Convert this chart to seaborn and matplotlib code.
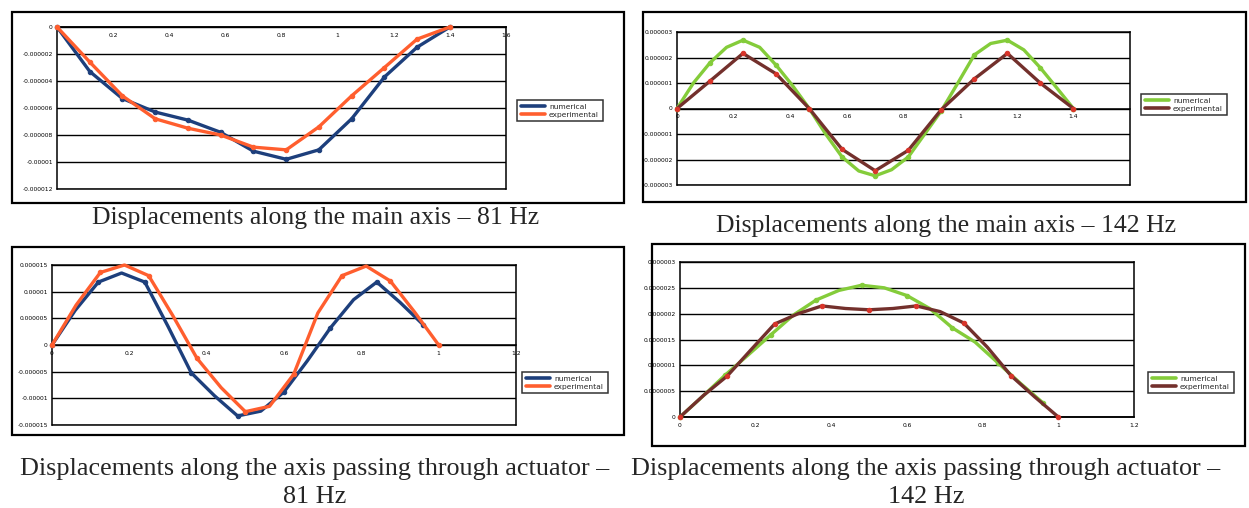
import numpy as np
import matplotlib
matplotlib.use('Agg')
import matplotlib.pyplot as plt
import seaborn as sns
from matplotlib.patches import Rectangle
from matplotlib.lines import Line2D

sns.set_style('white')
plt.rcParams['font.family'] = ['DejaVu Sans']

W, H = 1249, 508

# ---- data (y in micro units, labels show real values) ----
# panel 1: main axis, 81 Hz
x_p1 = [0, 0.117, 0.233, 0.35, 0.467, 0.583, 0.7, 0.817, 0.933, 1.05, 1.167, 1.283, 1.4]
num_p1 = [0, -3.3, -5.3, -6.3, -6.9, -7.8, -9.2, -9.8, -9.1, -6.8, -3.7, -1.5, 0]
exp_p1 = [0, -2.6, -5.1, -6.8, -7.5, -8.0, -8.9, -9.1, -7.4, -5.1, -3.0, -0.9, 0]

# panel 2: main axis, 142 Hz
x_p2_num = [0, 0.058, 0.117, 0.175, 0.233, 0.292, 0.35, 0.408, 0.467, 0.525, 0.583, 0.642, 0.7,
            0.758, 0.817, 0.875, 0.933, 0.992, 1.05, 1.108, 1.167, 1.225, 1.283, 1.342, 1.4]
num_p2 = [0, 1.0, 1.8, 2.4, 2.68, 2.4, 1.7, 0.9, 0.0, -1.0, -1.9, -2.45, -2.64,
          -2.4, -1.9, -1.0, -0.1, 1.0, 2.1, 2.55, 2.68, 2.3, 1.6, 0.8, 0]
x_p2_exp = [0, 0.117, 0.233, 0.35, 0.467, 0.583, 0.7, 0.817, 0.933, 1.05, 1.167, 1.283, 1.4]
exp_p2 = [0, 1.08, 2.16, 1.36, 0.0, -1.6, -2.44, -1.64, -0.05, 1.16, 2.16, 1.0, 0]

# panel 3: axis through actuator, 81 Hz
x_p3_num = [0, 0.06, 0.12, 0.18, 0.24, 0.3, 0.36, 0.42, 0.48, 0.54, 0.6, 0.66, 0.72, 0.78, 0.84, 0.9, 0.96]
num_p3 = [0, 6.5, 11.8, 13.5, 11.8, 3.5, -5.2, -9.5, -13.3, -12.4, -8.8, -3.0, 3.2, 8.5, 11.8, 8.0, 3.8]
x_p3_exp = [0, 0.0625, 0.125, 0.1875, 0.25, 0.3125, 0.375, 0.4375, 0.5, 0.5625, 0.625, 0.6875,
            0.75, 0.8125, 0.875, 0.9375, 1.0]
exp_p3 = [0, 7.5, 13.6, 15.0, 13.0, 5.5, -2.5, -8.0, -12.5, -11.5, -5.5, 6.0, 13.0, 14.8, 12.0, 6.2, 0]

# panel 4: axis through actuator, 142 Hz
x_p4_num = [0, 0.06, 0.12, 0.18, 0.24, 0.3, 0.36, 0.42, 0.48, 0.54, 0.6, 0.66, 0.72, 0.78, 0.84, 0.9, 0.96]
num_p4 = [0, 0.4, 0.815, 1.2, 1.59, 1.975, 2.265, 2.45, 2.55, 2.5, 2.35, 2.1, 1.725, 1.45, 1.05, 0.65, 0.27]
x_p4_exp = [0, 0.0625, 0.125, 0.1875, 0.25, 0.3125, 0.375, 0.4375, 0.5, 0.5625, 0.625, 0.6875,
            0.75, 0.8125, 0.875, 0.9375, 1.0]
exp_p4 = [0, 0.42, 0.795, 1.3, 1.8, 2.0, 2.15, 2.1, 2.075, 2.1, 2.15, 2.04, 1.82, 1.35, 0.8, 0.39, 0]

yt_p1 = [0, -2, -4, -6, -8, -10, -12]
yl_p1 = ['0', '-0.000002', '-0.000004', '-0.000006', '-0.000008', '-0.00001', '-0.000012']
yt_p2 = [3, 2, 1, 0, -1, -2, -3]
yl_p2 = ['0.000003', '0.000002', '0.000001', '0', '-0.000001', '-0.000002', '-0.000003']
yt_p3 = [15, 10, 5, 0, -5, -10, -15]
yl_p3 = ['0.000015', '0.00001', '0.000005', '0', '-0.000005', '-0.00001', '-0.000015']
yt_p4 = [3, 2.5, 2, 1.5, 1, 0.5, 0]
yl_p4 = ['0.000003', '0.0000025', '0.000002', '0.0000015', '0.000001', '0.0000005', '0']

titles = [
    'Displacements along the main axis \u2013 81 Hz',
    'Displacements along the main axis \u2013 142 Hz',
    'Displacements along the axis passing through actuator \u2013\n81 Hz',
    'Displacements along the axis passing through actuator \u2013\n142 Hz',
]
series_names = ['numerical', 'experimental']

BLUE, ORANGE = '#1d3f7c', '#ff5e2e'
GREEN, BROWN, RED = '#84cc3a', '#73302c', '#d8342a'


def px_axes(l, t, r, b):
    return [l / W, 1 - b / H, (r - l) / W, (b - t) / H]


fig = plt.figure(figsize=(W / 100, H / 100), dpi=100)
fig.patch.set_facecolor('white')

# outer chart boxes
for (l, t, r, b) in [(12, 12, 624, 203), (643, 12, 1246, 202), (12, 247, 624, 435), (652, 244, 1245, 446)]:
    fig.add_artist(Rectangle((l / W, 1 - b / H), (r - l) / W, (b - t) / H, transform=fig.transFigure,
                             fill=False, ec='black', lw=1.6))


def setup(ax, xlim, xticks, xlabels, yticks, ylabels, zero_at):
    # spine position first: moving it resets tick styling
    ax.spines['bottom'].set_position(('data', zero_at))
    for s in ax.spines.values():
        s.set_color('black')
        s.set_linewidth(1.1)
        s.set_visible(True)
    ax.set_xlim(*xlim)
    ax.set_ylim(min(yticks), max(yticks))
    ax.set_yticks(yticks)
    ax.set_yticklabels(ylabels, fontsize=4.3)
    ax.set_xticks(xticks)
    ax.set_xticklabels(xlabels, fontsize=4.3)
    ax.axhline(min(yticks), color='black', lw=1.1, clip_on=False, zorder=1)
    ax.yaxis.grid(True, color='black', lw=1.0)
    ax.xaxis.grid(False)
    ax.tick_params(axis='x', direction='inout', length=4, width=0.8, pad=2, colors='black', labelsize=4.3)
    ax.tick_params(axis='y', direction='inout', length=4, width=0.8, pad=1, colors='black', labelsize=4.3)
    ax.set_xlabel('')
    ax.set_ylabel('')


def draw(ax, x, y, color, mcolor, every=1):
    sns.lineplot(x=x, y=y, ax=ax, color=color, lw=2.4, marker='o', ms=3.2, mfc=mcolor, mec=mcolor,
                 markevery=every, sort=False, clip_on=False, zorder=3)


def add_legend(ax, colors, box):
    l, t, r, b = box
    handles = [Line2D([0], [0], color=c, lw=2.6) for c in colors]
    leg = ax.legend(handles, series_names, loc='upper left', bbox_to_anchor=(l / W, 1 - t / H),
                    bbox_transform=fig.transFigure, fontsize=5.4, frameon=True, fancybox=False,
                    handlelength=3.2, borderpad=0.5, labelspacing=0.2, handletextpad=0.6)
    leg.get_frame().set_edgecolor('black')
    leg.get_frame().set_linewidth(1.1)


# panel 1
ax1 = fig.add_axes(px_axes(57, 27, 506, 189))
draw(ax1, x_p1, num_p1, BLUE, BLUE)
draw(ax1, x_p1, exp_p1, ORANGE, ORANGE)
setup(ax1, (0, 1.6), [0.2, 0.4, 0.6, 0.8, 1, 1.2, 1.4, 1.6],
      ['0.2', '0.4', '0.6', '0.8', '1', '1.2', '1.4', '1.6'], yt_p1, yl_p1, 0)
add_legend(ax1, [BLUE, ORANGE], (513, 96, 606, 131))

# panel 2
ax2 = fig.add_axes(px_axes(677, 32, 1130, 185))
draw(ax2, x_p2_num, num_p2, GREEN, GREEN, every=2)
draw(ax2, x_p2_exp, exp_p2, BROWN, RED)
setup(ax2, (0, 1.6), [0, 0.2, 0.4, 0.6, 0.8, 1, 1.2, 1.4],
      ['0', '0.2', '0.4', '0.6', '0.8', '1', '1.2', '1.4'], yt_p2, yl_p2, 0)
add_legend(ax2, [GREEN, BROWN], (1137, 90, 1232, 125))

# panel 3
ax3 = fig.add_axes(px_axes(52, 265, 516, 425))
draw(ax3, x_p3_num, num_p3, BLUE, BLUE, every=2)
draw(ax3, x_p3_exp, exp_p3, ORANGE, ORANGE, every=2)
setup(ax3, (0, 1.2), [0, 0.2, 0.4, 0.6, 0.8, 1, 1.2],
      ['0', '0.2', '0.4', '0.6', '0.8', '1', '1.2'], yt_p3, yl_p3, 0)
add_legend(ax3, [BLUE, ORANGE], (518, 368, 612, 403))

# panel 4
ax4 = fig.add_axes(px_axes(680, 262, 1134, 417))
draw(ax4, x_p4_num, num_p4, GREEN, GREEN, every=2)
draw(ax4, x_p4_exp, exp_p4, BROWN, RED, every=2)
setup(ax4, (0, 1.2), [0, 0.2, 0.4, 0.6, 0.8, 1, 1.2],
      ['0', '0.2', '0.4', '0.6', '0.8', '1', '1.2'], yt_p4, yl_p4, 0)
add_legend(ax4, [GREEN, BROWN], (1144, 368, 1236, 404))

# captions
serif = ['Liberation Serif', 'DejaVu Serif']
fig.text(316 / W, 1 - 218 / H, titles[0], ha='center', va='center', fontsize=18.5, family=serif)
fig.text(946 / W, 1 - 226 / H, titles[1], ha='center', va='center', fontsize=18.5, family=serif)
fig.text(315 / W, 1 - 483 / H, titles[2], ha='center', va='center', fontsize=18.8, family=serif,
         linespacing=1.35)
fig.text(926 / W, 1 - 483 / H, titles[3], ha='center', va='center', fontsize=18.8, family=serif,
         linespacing=1.35)

fig.savefig('out.png', dpi=100, facecolor='white')
